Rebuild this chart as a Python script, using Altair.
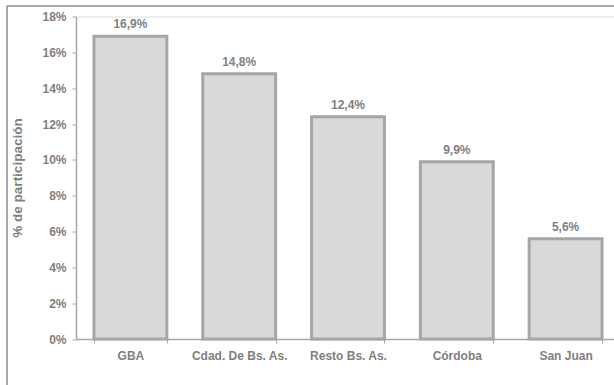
import altair as alt
import pandas as pd

# Share of participation by region
regiones = ["GBA", "Cdad. De Bs. As.", "Resto Bs. As.", "Córdoba", "San Juan"]
porcentajes = [16.9, 14.8, 12.4, 9.9, 5.6]
etiquetas = ["16,9%", "14,8%", "12,4%", "9,9%", "5,6%"]
y_ticks = [0, 2, 4, 6, 8, 10, 12, 14, 16, 18]

df = pd.DataFrame({"region": regiones, "pct": porcentajes, "etiqueta": etiquetas})

FONT = "Liberation Sans"
GRAY = "#808080"

x_enc = alt.X(
    "region:N",
    sort=regiones,
    title=None,
    scale=alt.Scale(range=[0, 544], paddingInner=0.33, paddingOuter=0.165),
    axis=alt.Axis(
        labelAngle=0,
        labelFont=FONT,
        labelFontSize=12,
        labelFontWeight="bold",
        labelColor=GRAY,
        labelPadding=7,
        tickBand="extent",
        tickSize=4,
        tickColor="#a6a6a6",
        domainColor="#a6a6a6",
        domainWidth=1.5,
        grid=False,
    ),
)

y_enc = alt.Y(
    "pct:Q",
    scale=alt.Scale(domain=[0, 18], nice=False, zero=True),
    axis=alt.Axis(
        title="% de participación",
        values=y_ticks,
        labelOverlap=False,
        labelBound=False,
        labelFlush=False,
        labelExpr="datum.value + '%'",
        labelFont=FONT,
        labelFontSize=12,
        labelFontWeight="bold",
        labelColor=GRAY,
        labelPadding=6,
        tickSize=4,
        tickColor="#a6a6a6",
        domainColor="#a6a6a6",
        domainWidth=1.5,
        grid=False,
        titleFont=FONT,
        titleFontSize=13.5,
        titleFontWeight="bold",
        titleColor=GRAY,
        titleX=-59,
        titleY=161,
        titleAlign="center",
        titleBaseline="middle",
    ),
)

base = alt.Chart(df).encode(x=x_enc, y=y_enc)

bars = base.mark_bar(color="#d9d9d9", stroke="#a6a6a6", strokeWidth=3)

labels = base.mark_text(
    font=FONT, fontSize=12, fontWeight="bold", color=GRAY,
    baseline="alphabetic", dy=-8
).encode(text="etiqueta:N")

# Outer frame lines (top and left edges)
frame_top = alt.Chart(alt.Data(values=[{}])).mark_rule(
    color="#8c8c8c", strokeWidth=1.5
).encode(x=alt.value(-69), x2=alt.value(700), y=alt.value(-10.5))
frame_left = alt.Chart(alt.Data(values=[{}])).mark_rule(
    color="#8c8c8c", strokeWidth=1.5
).encode(x=alt.value(-69), y=alt.value(-10.5), y2=alt.value(500))

chart = alt.layer(bars, labels, frame_top, frame_left).properties(
    width=538,
    height=322.5,
    autosize=alt.AutoSizeParams(type="none"),
    padding={"left": 76, "top": 16.5, "right": 0, "bottom": 46},
).configure_view(stroke=None).configure(background="white")

chart.save("out.html", embed_options={"renderer": "svg", "actions": False})
